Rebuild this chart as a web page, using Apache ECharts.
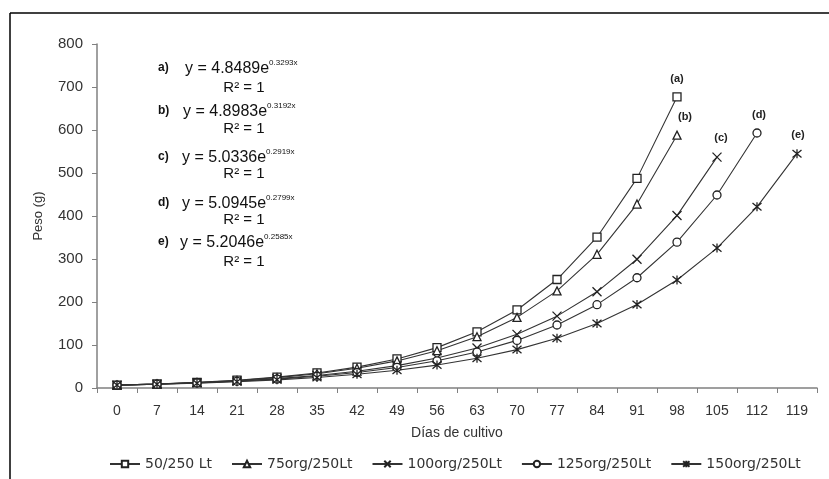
<!DOCTYPE html>
<html><head><meta charset="utf-8">
<script src="https://cdn.jsdelivr.net/npm/echarts@6/dist/echarts.min.js"></script>
<style>html,body{margin:0;padding:0;background:#fff}#c{width:829px;height:479px}</style>
</head><body><div id="c"></div>
<script>
const days = ['0','7','14','21','28','35','42','49','56','63','70','77','84','91','98','105','112','119'];
const seriesNames = ['50/250 Lt','75org/250Lt','100org/250Lt','125org/250Lt','150org/250Lt'];
const endLabels = ['(a)','(b)','(c)','(d)','(e)'];
const valsA = [6.7,9.4,13.0,18.1,25.2,35.0,48.6,67.6,93.9,130.6,181.5,252.3,350.7,487.5,677];
const valsB = [6.7,9.3,12.8,17.6,24.2,33.3,45.8,63.0,86.7,119.3,164.2,225.9,310.9,427.8,588];
const valsC = [6.7,9.0,12.1,16.2,21.7,29.0,38.8,52.0,69.6,93.2,124.8,167.1,223.7,299.5,401,537];
const valsD = [6.7,8.9,11.8,15.6,20.7,27.3,36.1,47.8,63.3,83.7,110.7,146.5,193.8,256.4,339.2,448.8,593];
const valsE = [6.7,8.7,11.3,14.6,19.0,24.5,31.8,41.1,53.3,69.0,89.3,115.7,149.8,194.0,251.2,325.3,421.3,545];
const yTicks = {min:0, max:800, interval:100};
const eqLetters = ['a)','b)','c)','d)','e)'];
const eqBase = ['y = 4.8489e','y = 4.8983e','y = 5.0336e','y = 5.0945e','y = 5.2046e'];
const eqExp = ['0.3293x','0.3192x','0.2919x','0.2799x','0.2585x'];
const r2Text = 'R\u00B2 = 1';

// layout / style (not data)
const allVals = [valsA, valsB, valsC, valsD, valsE];
const symbols = ['rect','triangle','path://M0,0L10,10M10,0L0,10','circle','path://M0,0L10,10M10,0L0,10M5,-1L5,11'];
const symSizes = [8,8,9,8,9];
const labelOffsets = [[0,0],[8,0],[4,0],[2,0],[1,0]];
const eqLeft = [185,183,182,182,180];
const eqY = [68,111,157,203,242];
const r2Y = [88,129,174,220,262];
const ink = '#333';

const series = allVals.map((vals, s) => ({
  type: 'line',
  name: seriesNames[s],
  symbol: symbols[s],
  symbolSize: symSizes[s],
  showAllSymbol: true,
  animation: false,
  lineStyle: {color: ink, width: 1.1},
  itemStyle: {color: '#fff', borderColor: '#222', borderWidth: 1.3},
  emphasis: {disabled: true},
  data: vals.map((v, i) => i === vals.length - 1 ? {
    value: v,
    label: {show: true, formatter: endLabels[s], position: 'top', distance: 8,
      offset: labelOffsets[s], color: '#222', fontSize: 11, fontWeight: 'bold', fontFamily: 'Liberation Sans Narrow, Liberation Sans'}
  } : v)
}));

const graphics = [
  {type:'line', shape:{x1:10,y1:13,x2:829,y2:13}, style:{stroke:'#000', lineWidth:1.5}},
  {type:'line', shape:{x1:10,y1:13,x2:10,y2:479}, style:{stroke:'#000', lineWidth:1.5}}
];
eqLetters.forEach((l, i) => {
  graphics.push({type:'text', style:{text:l, x:158, y:eqY[i], verticalAlign:'middle',
    fontSize:12, fontWeight:'bold', fontFamily:'Liberation Sans', fill:'#111'}});
  graphics.push({type:'text', style:{
    text:'{b|' + eqBase[i] + '}{s|' + eqExp[i] + '}', x:eqLeft[i], y:eqY[i], verticalAlign:'middle',
    rich:{
      b:{fontSize:16, lineHeight:18, fontFamily:'Liberation Sans', fill:'#111', verticalAlign:'bottom'},
      s:{fontSize:8, lineHeight:8, fontFamily:'Liberation Sans', fill:'#111', verticalAlign:'top'}
    }}});
  graphics.push({type:'text', style:{text:r2Text, x:244, y:r2Y[i], align:'center', verticalAlign:'middle',
    fontSize:15, fontFamily:'Liberation Sans', fill:'#111'}});
});

const chart = echarts.init(document.getElementById('c'));
chart.setOption({
  animation: false,
  backgroundColor: '#fff',
  grid: {left: 97, right: 12, top: 44, bottom: 91},
  xAxis: {
    type: 'category', data: days, boundaryGap: true,
    name: 'Días de cultivo', nameLocation: 'middle', nameGap: 38,
    nameTextStyle: {fontSize: 14, color: ink, fontFamily: 'Liberation Sans'},
    axisLine: {show: true, lineStyle: {color: '#808080', width: 1.5}},
    axisTick: {show: true, length: 5, lineStyle: {color: '#808080'}},
    axisLabel: {margin: 16, fontSize: 14, color: ink, fontFamily: '"Liberation Sans Narrow", "Liberation Sans"'},
    splitLine: {show: false}
  },
  yAxis: {
    type: 'value', min: yTicks.min, max: yTicks.max, interval: yTicks.interval,
    name: 'Peso (g)', nameLocation: 'middle', nameGap: 52, nameRotate: 90,
    nameTextStyle: {fontSize: 13, color: ink, fontFamily: 'Liberation Sans'},
    axisLine: {show: true, lineStyle: {color: '#808080', width: 1.5}},
    axisTick: {show: true, length: 5, lineStyle: {color: '#808080'}},
    axisLabel: {margin: 14, fontSize: 15, color: ink, fontFamily: 'Liberation Sans'},
    splitLine: {show: false}
  },
  legend: {
    top: 452, left: 104, itemWidth: 30, itemHeight: 8, itemGap: 19,
    textStyle: {fontSize: 14, color: ink, fontFamily: 'DejaVu Sans'},
    data: seriesNames
  },
  graphic: graphics,
  series: series
});
</script></body></html>
